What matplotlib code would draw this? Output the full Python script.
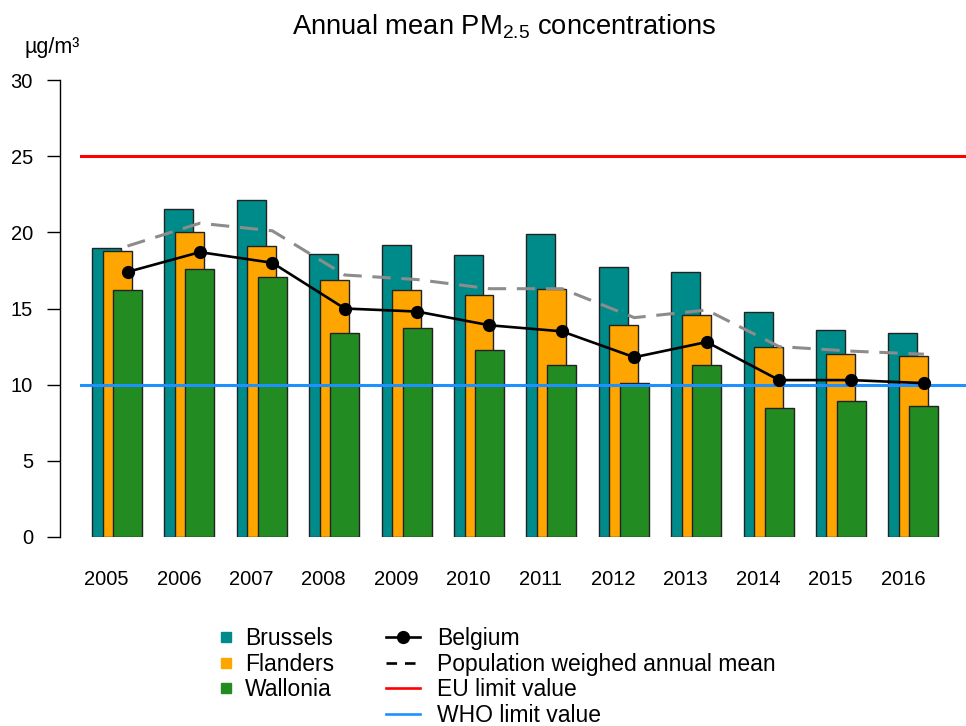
import numpy as np
import matplotlib
matplotlib.use('Agg')
import matplotlib.pyplot as plt
from matplotlib.lines import Line2D

plt.rcParams['font.family'] = ['Liberation Sans', 'DejaVu Sans']
plt.rcParams['mathtext.fontset'] = 'custom'
plt.rcParams['mathtext.rm'] = 'Liberation Sans'
plt.rcParams['mathtext.it'] = 'Liberation Sans'

# Data (µg/m³)
years = [2005, 2006, 2007, 2008, 2009, 2010, 2011, 2012, 2013, 2014, 2015, 2016]
brussels = [19.0, 21.5, 22.1, 18.6, 19.2, 18.5, 19.9, 17.7, 17.4, 14.8, 13.6, 13.4]
flanders = [18.8, 20.0, 19.1, 16.9, 16.2, 15.9, 16.3, 13.9, 14.6, 12.5, 12.0, 11.9]
wallonia = [16.2, 17.6, 17.1, 13.4, 13.7, 12.3, 11.3, 10.1, 11.3, 8.5, 8.9, 8.6]
belgium = [17.4, 18.7, 18.0, 15.0, 14.8, 13.9, 13.5, 11.8, 12.8, 10.3, 10.3, 10.1]
pop_weighed = [19.1, 20.6, 20.1, 17.2, 16.9, 16.3, 16.3, 14.4, 14.9, 12.5, 12.2, 12.0]
eu_limit = 25
who_limit = 10

c_bru = '#008B8B'
c_fla = '#FFA500'
c_wal = '#228B22'

W, H = 966, 726
fig = plt.figure(figsize=(W / 100, H / 100), dpi=100)
# axes span: x 80..966 px, y 80..537 px (30..0)
ax = fig.add_axes([80 / W, (H - 537) / H, (966 - 80) / W, (537 - 80) / H])

x = np.arange(len(years))
off = 10.5 / 72.4
bw = 29 / 72.4

for dx, vals, col in [(-off, brussels, c_bru), (0, flanders, c_fla), (off, wallonia, c_wal)]:
    ax.bar(x + dx, vals, width=bw, color=col, edgecolor='#222222', linewidth=1.0, zorder=2)

ax.axhline(eu_limit, color='#FF0000', lw=2.2, zorder=3)
ax.axhline(who_limit, color='#1E90FF', lw=2.2, zorder=3)

ax.plot(x + off, pop_weighed, color='#8C8C8C', lw=2.2, ls=(0, (6, 3.5)), zorder=4, clip_on=False)
ax.plot(x + off, belgium, color='black', lw=1.9, marker='o', ms=8.5, zorder=5, clip_on=False)

ax.set_xlim(-37 / 72.4, (966 - 117) / 72.4)
ax.set_ylim(0, 30)

for s in ['top', 'right', 'bottom']:
    ax.spines[s].set_visible(False)
ax.spines['left'].set_position(('outward', 14.4))
ax.spines['left'].set_bounds(0, 30)
ax.spines['left'].set_linewidth(1.0)

ax.set_yticks([0, 5, 10, 15, 20, 25, 30])
ax.tick_params(axis='y', length=9.4, width=1.0, pad=10, labelsize=14.5)
ax.set_xticks(x - off)
ax.set_xticklabels([str(y) for y in years])
ax.tick_params(axis='x', length=0, pad=24, labelsize=14.5)

fig.text(504 / W, 1 - 27 / H, r'Annual mean PM$_{2.5}$ concentrations',
         ha='center', va='center', fontsize=19.7)
fig.text(24 / W, 1 - 47 / H, 'µg/m³', ha='left', va='center', fontsize=15.5)

# legends
fs = 16.5
h1 = [Line2D([], [], ls='none', marker='s', ms=7, color=c)
      for c in (c_bru, c_fla, c_wal)]
fig.legend(h1, ['Brussels', 'Flanders', 'Wallonia'], loc='upper left',
           bbox_to_anchor=(221 / W, 1 - 627 / H), frameon=False, fontsize=fs,
           handlelength=0.44, handletextpad=0.61, labelspacing=0.12,
           borderpad=0, borderaxespad=0)
h2 = [Line2D([], [], color='black', lw=1.9, marker='o', ms=8.5),
      Line2D([], [], color='black', lw=1.9, ls=(0, (4, 3))),
      Line2D([], [], color='#FF0000', lw=1.9),
      Line2D([], [], color='#1E90FF', lw=1.9)]
fig.legend(h2, ['Belgium', 'Population weighed annual mean', 'EU limit value', 'WHO limit value'],
           loc='upper left', bbox_to_anchor=(386 / W, 1 - 627 / H), frameon=False, fontsize=fs,
           handlelength=1.48, handletextpad=0.74, labelspacing=0.12,
           borderpad=0, borderaxespad=0)

fig.savefig('out.png', dpi=100)
